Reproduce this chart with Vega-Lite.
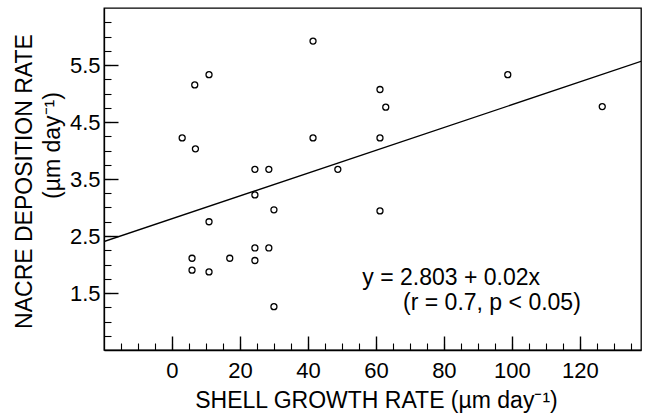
{
  "$schema": "https://vega.github.io/schema/vega-lite/v6.json",
  "width": 537,
  "height": 342,
  "autosize": {"type": "none"},
  "padding": {"left": 104, "top": 8, "right": 7, "bottom": 64},
  "background": "white",
  "config": {
    "font": "Liberation Sans",
    "view": {"stroke": "black", "strokeWidth": 1.3},
    "axis": {
      "grid": false,
      "domainColor": "black",
      "domainWidth": 1.3,
      "tickColor": "black",
      "labelColor": "black",
      "titleColor": "black",
      "labelFont": "Liberation Sans",
      "titleFont": "Liberation Sans",
      "labelFontSize": 22,
      "titleFontSize": 23,
      "titleFontWeight": "normal"
    }
  },
  "datasets": {
    "pts": [
      {"shell": 41.5, "nacre": 5.92},
      {"shell": 10.9, "nacre": 5.33},
      {"shell": 6.7, "nacre": 5.15},
      {"shell": 98.8, "nacre": 5.33},
      {"shell": 61.2, "nacre": 5.07},
      {"shell": 62.9, "nacre": 4.76},
      {"shell": 126.6, "nacre": 4.77},
      {"shell": 3.0, "nacre": 4.22},
      {"shell": 6.9, "nacre": 4.03},
      {"shell": 41.5, "nacre": 4.22},
      {"shell": 61.2, "nacre": 4.22},
      {"shell": 24.4, "nacre": 3.67},
      {"shell": 28.5, "nacre": 3.67},
      {"shell": 48.8, "nacre": 3.67},
      {"shell": 24.4, "nacre": 3.22},
      {"shell": 30.0, "nacre": 2.96},
      {"shell": 61.2, "nacre": 2.94},
      {"shell": 10.9, "nacre": 2.75},
      {"shell": 24.4, "nacre": 2.29},
      {"shell": 28.5, "nacre": 2.29},
      {"shell": 5.9, "nacre": 2.11},
      {"shell": 17.0, "nacre": 2.11},
      {"shell": 24.4, "nacre": 2.07},
      {"shell": 5.9, "nacre": 1.9},
      {"shell": 10.9, "nacre": 1.87},
      {"shell": 30.0, "nacre": 1.26}
    ],
    "fit": [
      {"shell": -20, "nacre": 2.403},
      {"shell": 138, "nacre": 5.563}
    ],
    "notes": [
      {"shell": 56, "nacre": 1.77, "label": "y = 2.803 + 0.02x"},
      {"shell": 68, "nacre": 1.33, "label": "(r = 0.7, p < 0.05)"}
    ]
  },
  "layer": [
    {
      "data": {"name": "pts"},
      "mark": {"type": "point", "shape": "circle", "filled": false, "stroke": "black", "strokeWidth": 1.3, "size": 36, "opacity": 1},
      "encoding": {
        "x": {
          "field": "shell", "type": "quantitative",
          "scale": {"domain": [-20, 138], "nice": false, "zero": false},
          "axis": {
            "orient": "bottom",
            "values": [0, 20, 40, 60, 80, 100, 120],
            "ticks": false, "labelPadding": 10, "format": "d",
            "title": "SHELL GROWTH RATE (µm day⁻¹)",
            "titleX": 272, "titleY": 50, "titleAlign": "center", "titleBaseline": "middle"
          }
        },
        "y": {
          "field": "nacre", "type": "quantitative",
          "scale": {"domain": [0.5, 6.5], "nice": false, "zero": false},
          "axis": {
            "orient": "left",
            "values": [1.5, 2.5, 3.5, 4.5, 5.5],
            "ticks": false, "labelPadding": 4, "format": ".1f",
            "title": "NACRE DEPOSITION RATE",
            "titleAngle": -90, "titleX": -80, "titleY": 173, "titleAlign": "center", "titleBaseline": "middle"
          }
        }
      }
    },
    {
      "data": {"name": "fit"},
      "mark": {"type": "line", "color": "black", "strokeWidth": 1.3, "clip": true},
      "encoding": {
        "x": {
          "field": "shell", "type": "quantitative",
          "scale": {"domain": [-20, 138], "nice": false, "zero": false},
          "axis": {
            "orient": "bottom",
            "values": [0, 20, 40, 60, 80, 100, 120],
            "labels": false, "domain": false, "ticks": true, "tickSize": -14, "tickWidth": 1.4, "title": null
          }
        },
        "y": {
          "field": "nacre", "type": "quantitative",
          "scale": {"domain": [0.5, 6.5], "nice": false, "zero": false},
          "axis": {
            "orient": "left",
            "values": [1.5, 2.5, 3.5, 4.5, 5.5],
            "labels": false, "domain": false, "ticks": true, "tickSize": -14, "tickWidth": 1.4,
            "title": "(µm day⁻¹)",
            "titleAngle": -90, "titleX": -52, "titleY": 137, "titleAlign": "center", "titleBaseline": "middle"
          }
        }
      }
    },
    {
      "data": {"name": "notes"},
      "mark": {"type": "text", "align": "left", "baseline": "middle", "fontSize": 23, "font": "Liberation Sans", "color": "black"},
      "encoding": {
        "x": {
          "field": "shell", "type": "quantitative",
          "scale": {"domain": [-20, 138], "nice": false, "zero": false},
          "axis": {
            "orient": "bottom",
            "values": [-15, -10, -5, 0, 5, 10, 15, 20, 25, 30, 35, 40, 45, 50, 55, 60, 65, 70, 75, 80, 85, 90, 95, 100, 105, 110, 115, 120, 125, 130, 135],
            "labels": false, "domain": false, "ticks": true, "tickSize": -7, "tickWidth": 1.1, "title": null
          }
        },
        "y": {
          "field": "nacre", "type": "quantitative",
          "scale": {"domain": [0.5, 6.5], "nice": false, "zero": false},
          "axis": {
            "orient": "left",
            "values": [0.75, 1, 1.25, 1.5, 1.75, 2, 2.25, 2.5, 2.75, 3, 3.25, 3.5, 3.75, 4, 4.25, 4.5, 4.75, 5, 5.25, 5.5, 5.75, 6, 6.25],
            "labels": false, "domain": false, "ticks": true, "tickSize": -7, "tickWidth": 1.1, "title": null
          }
        },
        "text": {"field": "label", "type": "nominal"}
      }
    }
  ],
  "resolve": {"axis": {"x": "independent", "y": "independent"}}
}
